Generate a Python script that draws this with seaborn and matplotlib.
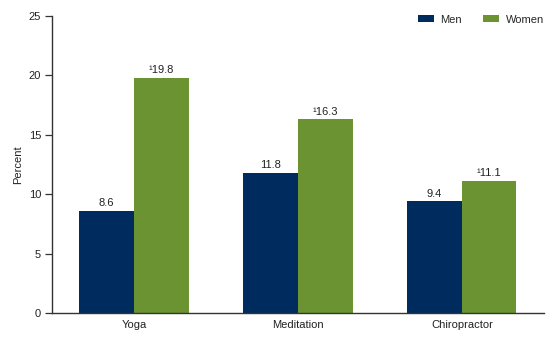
import matplotlib
matplotlib.use("Agg")
import matplotlib.pyplot as plt
import seaborn as sns
import pandas as pd

practices = ["Yoga", "Meditation", "Chiropractor"]
men = [8.6, 11.8, 9.4]
women = [19.8, 16.3, 11.1]
sexes = ["Men", "Women"]
# women's values carry footnote 1
women_marked = [True, True, True]

df = pd.DataFrame({
    "practice": practices * 2,
    "sex": [sexes[0]] * len(practices) + [sexes[1]] * len(practices),
    "percent": men + women,
})

sns.set_theme(style="white")
plt.rcParams["font.family"] = ["Liberation Sans", "DejaVu Sans"]

fig = plt.figure(figsize=(5.6, 3.42), dpi=100)
ax = fig.add_axes([0.093, 0.085, 0.878, 0.868])

palette = {"Men": "#002B5F", "Women": "#6B9331"}
sns.barplot(data=df, x="practice", y="percent", hue="sex", order=practices,
            hue_order=sexes, palette=palette, width=0.667, saturation=1,
            edgecolor="none", linewidth=0, ax=ax, legend=True)

# value labels above bars
for container, sex in zip(ax.containers, sexes):
    vals = men if sex == "Men" else women
    labels = []
    for i, v in enumerate(vals):
        if sex == "Women" and women_marked[i]:
            labels.append(f"\u00b9{v:.1f}")
        else:
            labels.append(f"{v:.1f}")
    ax.bar_label(container, labels=labels, padding=2, fontsize=8, color="#222222")

ax.set_ylim(0, 25)
ax.set_xlim(-0.5, 2.5)
ax.set_yticks([0, 5, 10, 15, 20, 25])
ax.set_xlabel("")
ax.set_ylabel("Percent", fontsize=8, color="#222222", labelpad=4)
ax.tick_params(axis="y", which="major", left=True, length=5, width=0.9,
               color="#333333", labelsize=8, labelcolor="#222222", pad=3)
ax.tick_params(axis="x", bottom=False, length=0, labelsize=8,
               labelcolor="#222222", pad=5)

for side in ["top", "right"]:
    ax.spines[side].set_visible(False)
for side in ["left", "bottom"]:
    ax.spines[side].set_color("#333333")
    ax.spines[side].set_linewidth(1.0)

leg = ax.legend(loc="upper right", bbox_to_anchor=(1.0, 1.005), ncol=2,
                frameon=False, fontsize=8, handlelength=1.45, handleheight=0.55,
                columnspacing=1.9, handletextpad=0.55, borderpad=0,
                borderaxespad=0)

fig.savefig("out.png", dpi=100, facecolor="white")
